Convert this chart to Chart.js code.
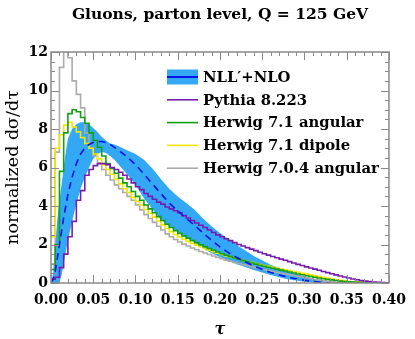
<!DOCTYPE html>
<html lang="en">
<head>
<meta charset="UTF-8">
<title>Gluons, parton level, Q = 125 GeV</title>
<script src="https://cdn.jsdelivr.net/npm/chart.js"></script>
<style>
  html, body { margin: 0; padding: 0; background: #fff; }
</style>
</head>
<body>
<canvas id="tauChart" width="415" height="339"></canvas>
<script>
// histogram bins: 0.005 wide from 0 to 0.4
const binWidth = 0.005;

const pythia = [
  0.2, 0.3, 0.8, 1.5, 2.4, 3.2, 4.3, 4.8, 5.6, 5.9,
  6.1, 6.2, 6.2, 6.15, 6.0, 5.9, 5.75, 5.6, 5.4, 5.2,
  5.0, 4.85, 4.65, 4.5, 4.35, 4.2, 4.1, 3.95, 3.85, 3.75,
  3.65, 3.5, 3.38, 3.25, 3.12, 3.0, 2.88, 2.75, 2.62, 2.5,
  2.4, 2.3, 2.2, 2.1, 2.0, 1.92, 1.84, 1.76, 1.68, 1.6,
  1.52, 1.45, 1.38, 1.31, 1.24, 1.18, 1.11, 1.04, 0.97, 0.91,
  0.84, 0.78, 0.72, 0.66, 0.6, 0.54, 0.48, 0.42, 0.36, 0.31,
  0.26, 0.21, 0.17, 0.13, 0.1, 0.07, 0.05, 0.03, 0.02, 0.01
];
const herwig71ang = [
  0.7, 2.0, 5.8, 7.8, 8.8, 9.0, 8.9, 8.6, 8.3, 7.8,
  7.4, 7.05, 6.6, 6.2, 5.95, 5.7, 5.45, 5.2, 5.0, 4.75,
  4.5, 4.3, 4.05, 3.85, 3.65, 3.45, 3.25, 3.05, 2.88, 2.72,
  2.58, 2.45, 2.33, 2.21, 2.1, 1.99, 1.89, 1.79, 1.7, 1.61,
  1.52, 1.44, 1.37, 1.3, 1.23, 1.16, 1.1, 1.04, 0.98, 0.92,
  0.87, 0.82, 0.77, 0.72, 0.67, 0.62, 0.57, 0.52, 0.47, 0.43,
  0.38, 0.34, 0.3, 0.26, 0.22, 0.19, 0.16, 0.13, 0.1, 0.08,
  0.06, 0.05, 0.04, 0.03, 0.02, 0.02, 0.01, 0.01, 0, 0
];
const herwig71dip = [
  2.4, 7.0, 7.7, 8.2, 8.35, 8.1, 7.85, 7.55, 7.25, 7.0,
  6.7, 6.45, 6.15, 5.9, 5.65, 5.4, 5.15, 4.9, 4.7, 4.45,
  4.25, 4.05, 3.82, 3.62, 3.42, 3.22, 3.02, 2.84, 2.67, 2.52,
  2.39, 2.27, 2.16, 2.06, 1.97, 1.88, 1.79, 1.71, 1.63, 1.55,
  1.48, 1.41, 1.35, 1.29, 1.23, 1.17, 1.12, 1.06, 1.01, 0.96,
  0.91, 0.87, 0.82, 0.77, 0.73, 0.68, 0.64, 0.59, 0.55, 0.5,
  0.46, 0.41, 0.37, 0.33, 0.29, 0.25, 0.21, 0.17, 0.14, 0.11,
  0.08, 0.06, 0.05, 0.04, 0.03, 0.02, 0.01, 0.01, 0, 0
];
const herwig704ang = [
  1.0, 6.8, 11.2, 12.0, 11.7, 10.5, 9.8, 9.1, 7.8, 7.0,
  6.6, 6.25, 5.9, 5.6, 5.35, 5.1, 4.9, 4.7, 4.5, 4.3,
  4.05, 3.8, 3.55, 3.35, 3.15, 2.95, 2.75, 2.55, 2.4, 2.26,
  2.13, 2.02, 1.92, 1.82, 1.73, 1.64, 1.56, 1.48, 1.4, 1.33,
  1.26, 1.19, 1.13, 1.07, 1.01, 0.95, 0.9, 0.85, 0.8, 0.75,
  0.7, 0.65, 0.6, 0.56, 0.51, 0.47, 0.43, 0.39, 0.35, 0.31,
  0.27, 0.23, 0.19, 0.16, 0.12, 0.09, 0.06, 0.04, 0.02, 0.01,
  0, 0, 0, 0, 0, 0, 0, 0, 0, 0
];

// NLL'+NLO resummed prediction: central value and uncertainty band
const bandTau = [0, 0.0025, 0.005, 0.0075, 0.01, 0.0125, 0.015, 0.0175, 0.02, 0.025,
  0.03, 0.035, 0.04, 0.045, 0.05, 0.055, 0.06, 0.065, 0.07, 0.075,
  0.08, 0.09, 0.10, 0.11, 0.12, 0.13, 0.14, 0.15, 0.16, 0.17,
  0.18, 0.19, 0.20, 0.21, 0.22, 0.24, 0.26, 0.28, 0.30, 0.32, 0.33];
const bandHigh = [0, 0.5, 2.0, 3.3, 4.3, 5.1, 6.0, 6.8, 7.5, 8.0,
  8.25, 8.35, 8.35, 8.25, 8.05, 7.85, 7.6, 7.4, 7.25, 7.2,
  7.1, 6.9, 6.7, 6.4, 5.95, 5.4, 4.9, 4.5, 4.15, 3.8,
  3.35, 2.95, 2.6, 2.28, 1.98, 1.4, 0.95, 0.6, 0.35, 0.12, 0];
const bandLow = [0, 0, 0, 0, 0.05, 0.4, 1.0, 1.6, 2.2, 3.2,
  4.1, 4.9, 5.5, 6.0, 6.45, 6.7, 6.8, 6.75, 6.6, 6.4,
  6.15, 5.65, 5.1, 4.4, 3.85, 3.3, 2.95, 2.65, 2.35, 2.1,
  1.8, 1.55, 1.35, 1.15, 0.98, 0.68, 0.42, 0.2, 0.06, 0, 0];
const bandMid = [0, 0.2, 0.6, 1.3, 2.0, 2.7, 3.4, 4.0, 4.6, 5.5,
  6.2, 6.7, 7.0, 7.2, 7.3, 7.35, 7.35, 7.3, 7.2, 7.05,
  6.9, 6.55, 6.15, 5.65, 5.15, 4.65, 4.15, 3.75, 3.35, 3.0,
  2.6, 2.22, 1.88, 1.58, 1.32, 0.88, 0.55, 0.3, 0.14, 0.03, 0];

const seriesNames = ['NLL\u2032+NLO', 'Pythia 8.223', 'Herwig 7.1 angular', 'Herwig 7.1 dipole', 'Herwig 7.0.4 angular'];
const chartTitle = 'Gluons, parton level, Q = 125 GeV';
const xTickStep = 0.05, xMinorStep = 0.01;
const yTickStep = 2, yMinorStep = 0.5;

const serif = 'DejaVu Serif';
const colors = {
  band: '#33a8f5',
  mid: '#0a14e6',
  pythia: '#7a1bb0',
  ang71: '#13a013',
  dip71: '#f5e400',
  ang704: '#ababab'
};

// step histogram points: left edge of each bin, plus closing point at the last edge
function histPoints(vals) {
  const pts = vals.map((v, i) => ({ x: i * binWidth, y: v }));
  pts.push({ x: vals.length * binWidth, y: vals[vals.length - 1] });
  return pts;
}
function curvePoints(ys) {
  return bandTau.map((t, i) => ({ x: t, y: ys[i] }));
}

function histSet(label, data, color, order) {
  return {
    label: label,
    data: histPoints(data),
    borderColor: color,
    borderWidth: 1.6,
    pointRadius: 0,
    stepped: true,
    fill: false,
    order: order
  };
}

// title centred over the plot area
const plotTitle = {
  id: 'plotTitle',
  afterDraw(chart) {
    const { ctx, chartArea: a } = chart;
    ctx.save();
    ctx.font = 'bold 15.5px "' + serif + '"';
    ctx.fillStyle = '#000';
    ctx.textAlign = 'center';
    ctx.textBaseline = 'middle';
    ctx.fillText(chartTitle, (a.left + a.right) / 2, 15);
    ctx.restore();
  }
};

// inner ticks on all four sides plus the frame
const frameTicks = {
  id: 'frameTicks',
  afterDatasetsDraw(chart) {
    const { ctx, chartArea: a, scales: { x, y } } = chart;
    ctx.save();
    ctx.strokeStyle = '#8a8a8a';
    ctx.lineWidth = 1;
    ctx.beginPath();
    const nx = Math.round((x.max - x.min) / xMinorStep);
    for (let i = 0; i <= nx; i++) {
      const px = Math.round(x.getPixelForValue(i * xMinorStep)) + 0.5;
      const len = i % Math.round(xTickStep / xMinorStep) === 0 ? 8 : 4;
      ctx.moveTo(px, a.bottom); ctx.lineTo(px, a.bottom - len);
      ctx.moveTo(px, a.top); ctx.lineTo(px, a.top + len);
    }
    const ny = Math.round((y.max - y.min) / yMinorStep);
    for (let j = 0; j <= ny; j++) {
      const py = Math.round(y.getPixelForValue(j * yMinorStep)) + 0.5;
      const len = j % Math.round(yTickStep / yMinorStep) === 0 ? 8 : 4;
      ctx.moveTo(a.left, py); ctx.lineTo(a.left + len, py);
      ctx.moveTo(a.right, py); ctx.lineTo(a.right - len, py);
    }
    ctx.stroke();
    ctx.lineWidth = 1.5;
    ctx.strokeRect(a.left, a.top, a.right - a.left, a.bottom - a.top);
    ctx.restore();
  }
};

// legend inside the plot, top right
const plotLegend = {
  id: 'plotLegend',
  afterDraw(chart) {
    const ctx = chart.ctx;
    const x0 = 167, x1 = 198, tx = 203, y0 = 77, dy = 22.8;
    const lineColors = [colors.mid, colors.pythia, colors.ang71, colors.dip71, colors.ang704];
    ctx.save();
    ctx.font = 'bold 14.8px "' + serif + '"';
    ctx.textBaseline = 'middle';
    seriesNames.forEach((name, i) => {
      const yy = y0 + i * dy;
      if (i === 0) {
        ctx.fillStyle = colors.band;
        ctx.fillRect(x0, yy - 7.5, x1 - x0, 15);
      }
      ctx.strokeStyle = lineColors[i];
      ctx.lineWidth = i === 0 ? 2 : 1.6;
      ctx.beginPath();
      ctx.moveTo(x0, yy);
      ctx.lineTo(x1, yy);
      ctx.stroke();
      ctx.fillStyle = '#000';
      ctx.fillText(name, tx, yy + 1);
    });
    ctx.restore();
  }
};

const ctx = document.getElementById('tauChart').getContext('2d');
const tauChart = new Chart(ctx, {
  type: 'line',
  data: {
    datasets: [
      {
        label: 'band low',
        data: curvePoints(bandLow),
        borderWidth: 0,
        pointRadius: 0,
        fill: false,
        order: 10
      },
      {
        label: 'band high',
        data: curvePoints(bandHigh),
        borderWidth: 0,
        pointRadius: 0,
        backgroundColor: colors.band,
        fill: 0,
        order: 9
      },
      histSet(seriesNames[4], herwig704ang, colors.ang704, 8),
      histSet(seriesNames[3], herwig71dip, colors.dip71, 7),
      histSet(seriesNames[2], herwig71ang, colors.ang71, 6),
      histSet(seriesNames[1], pythia, colors.pythia, 5),
      {
        label: seriesNames[0],
        data: curvePoints(bandMid),
        borderColor: colors.mid,
        borderWidth: 1.6,
        borderDash: [7, 5],
        pointRadius: 0,
        fill: false,
        order: 4
      }
    ]
  },
  options: {
    responsive: false,
    animation: false,
    layout: { padding: { left: 0, right: 18, top: 52, bottom: 0 } },
    plugins: {
      legend: { display: false },
      tooltip: { enabled: false },
      title: { display: false }
    },
    scales: {
      x: {
        type: 'linear',
        min: 0,
        max: 0.4,
        grid: { display: false, drawTicks: false },
        border: { display: false },
        ticks: {
          stepSize: xTickStep,
          autoSkip: false,
          maxRotation: 0,
          padding: 9,
          color: '#000',
          font: { family: serif, size: 14, weight: 'bold' },
          callback: v => v.toFixed(2)
        },
        title: {
          display: true,
          text: 'τ',
          color: '#000',
          font: { family: serif, size: 16, weight: 'bold', style: 'italic' },
          padding: 0
        },
        afterFit: s => { s.height = 56; }
      },
      y: {
        min: 0,
        max: 12,
        grid: { display: false, drawTicks: false },
        border: { display: false },
        ticks: {
          stepSize: yTickStep,
          padding: 3,
          color: '#000',
          font: { family: serif, size: 14, weight: 'bold' }
        },
        title: {
          display: true,
          text: 'normalized dσ/dτ',
          color: '#000',
          font: { family: serif, size: 17.5 },
          padding: { top: 3, bottom: 0 }
        },
        afterFit: s => { s.width = 51; }
      }
    }
  },
  plugins: [frameTicks, plotLegend, plotTitle]
});
</script>
</body>
</html>
